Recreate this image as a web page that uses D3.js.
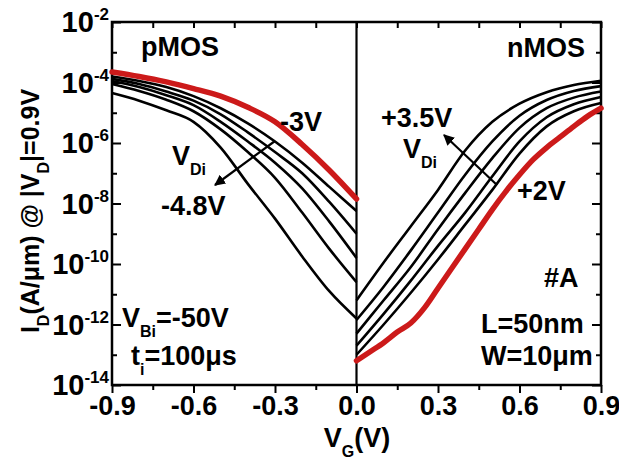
<!DOCTYPE html>
<html>
<head>
<meta charset="utf-8">
<script src="https://cdn.jsdelivr.net/npm/d3@7"></script>
<style>
body{margin:0;background:#fff}
svg{display:block;font-family:"Liberation Sans",Arial,sans-serif;font-weight:bold}
</style>
</head>
<body>
<div id="chart"></div>
<script>
// gate voltage grids (V)
const vgP = [-0.9,-0.8,-0.7,-0.6,-0.5,-0.4,-0.3,-0.2,-0.1,0];
const vgN = [0,0.1,0.2,0.3,0.4,0.5,0.6,0.7,0.8,0.9];
const vgNRed = [0,0.05,0.1,0.15,0.2,0.25,0.3,0.35,0.4,0.45,0.5,0.55,0.6,0.65,0.7,0.75,0.8,0.85,0.9];

// log10 I_D (A/um), pMOS, red = -3V, black down to -4.8V
const pRed    = [-3.65,-3.8,-3.98,-4.2,-4.45,-4.82,-5.3,-6.05,-6.9,-7.85];
const pBlack1 = [-3.8,-3.95,-4.15,-4.45,-4.85,-5.35,-5.95,-6.65,-7.45,-8.25];
const pBlack2 = [-3.88,-4.05,-4.3,-4.6,-5.05,-5.65,-6.3,-7.0,-7.95,-9.0];
const pBlack3 = [-3.95,-4.15,-4.42,-4.75,-5.3,-5.95,-6.65,-7.5,-8.6,-9.8];
const pBlack4 = [-4.05,-4.28,-4.57,-4.95,-5.55,-6.3,-7.15,-8.3,-9.5,-10.6];
const pBlack5 = [-4.35,-4.6,-4.92,-5.3,-6.15,-7.35,-8.5,-9.75,-10.9,-11.8];

// log10 I_D (A/um), nMOS, red = +2V, black up to +3.5V
const nRed    = [-13.2,-12.9,-12.6,-12.25,-11.95,-11.45,-10.8,-10.15,-9.5,-8.85,-8.2,-7.6,-7.05,-6.55,-6.15,-5.8,-5.45,-5.12,-4.85];
const nBlack1 = [-11.2,-9.95,-8.75,-7.55,-6.25,-5.3,-4.7,-4.32,-4.08,-3.94];
const nBlack2 = [-11.85,-10.75,-9.55,-8.3,-7.05,-5.95,-5.1,-4.58,-4.28,-4.12];
const nBlack3 = [-12.3,-11.2,-10.1,-8.85,-7.65,-6.5,-5.5,-4.85,-4.5,-4.3];
const nBlack4 = [-12.7,-11.65,-10.55,-9.4,-8.3,-7.1,-5.95,-5.15,-4.72,-4.48];
const nBlack5 = [-13.0,-12.0,-10.95,-9.85,-8.7,-7.55,-6.35,-5.45,-4.95,-4.68];

const xMajor = [-0.9,-0.6,-0.3,0,0.3,0.6,0.9];
const xMinor = [-0.75,-0.45,-0.15,0.15,0.45,0.75];
const yLabelExp = [-2,-4,-6,-8,-10,-12,-14];
const yMinorExp = [-3,-5,-7,-9,-11,-13];

const RED = "#cc1a1a";

const svg = d3.select("#chart").append("svg")
	.attr("width",619).attr("height",465);

const x = d3.scaleLinear().domain([-0.9,0.9]).range([112,601]);
const y = d3.scaleLog().domain([1e-14,1e-2]).range([385,22]);

const line = d3.line()
	.x(d=>x(d[0]))
	.y(d=>y(Math.pow(10,d[1])))
	.curve(d3.curveMonotoneX);

const styleAxis = g=>{
	g.select(".domain").remove();
	g.selectAll(".tick line").attr("stroke","#000").attr("stroke-width",2);
};

// bottom axis, ticks outward
svg.append("g").attr("transform","translate(0,385)")
	.call(d3.axisBottom(x).tickValues(xMajor).tickSize(8).tickFormat(d=>d.toFixed(1)))
	.call(styleAxis)
	.call(g=>g.selectAll("text").attr("font-size",27).attr("font-family","inherit")
		.attr("font-weight","bold").attr("fill","#000").attr("y",11).attr("dy","0.7em"));
svg.append("g").attr("transform","translate(0,385)")
	.call(d3.axisBottom(x).tickValues(xMinor).tickSize(5).tickFormat(""))
	.call(styleAxis);

// top axis, ticks inward
svg.append("g").attr("transform","translate(0,22)")
	.call(d3.axisTop(x).tickValues(xMajor.concat(xMinor)).tickSize(-6).tickFormat(""))
	.call(styleAxis);

// left / right axes, ticks inward
const yMajorVals = yLabelExp.map(e=>Math.pow(10,e));
const yMinorVals = yMinorExp.map(e=>Math.pow(10,e));
[[d3.axisLeft,112,-9,yMajorVals],[d3.axisLeft,112,-5,yMinorVals],
 [d3.axisRight,601,-9,yMajorVals],[d3.axisRight,601,-5,yMinorVals]].forEach(([ax,tx,sz,vals])=>{
	svg.append("g").attr("transform","translate("+tx+",0)")
		.call(ax(y).tickValues(vals).tickSize(sz).tickFormat(""))
		.call(styleAxis);
});

// y tick labels 10^n
const ylab = svg.append("g").selectAll("text").data(yLabelExp).join("text")
	.attr("x",109).attr("y",d=>y(Math.pow(10,d))+10)
	.attr("text-anchor","end").attr("font-size",29);
ylab.append("tspan").text("10");
ylab.append("tspan").attr("font-size",17).attr("dy",-12).text(d=>d);

// frame and centre line
svg.append("rect").attr("x",112).attr("y",22).attr("width",489).attr("height",363)
	.attr("fill","none").attr("stroke","#000").attr("stroke-width",2.5);
svg.append("line").attr("x1",x(0)).attr("x2",x(0)).attr("y1",22).attr("y2",385)
	.attr("stroke","#000").attr("stroke-width",2.2);

// curves
const blacks = [
	[vgP,pBlack1],[vgP,pBlack2],[vgP,pBlack3],[vgP,pBlack4],[vgP,pBlack5],
	[vgN,nBlack1],[vgN,nBlack2],[vgN,nBlack3],[vgN,nBlack4],[vgN,nBlack5]
];
svg.append("g").selectAll("path").data(blacks).join("path")
	.attr("d",([v,e])=>line(v.map((d,i)=>[d,e[i]])))
	.attr("fill","none").attr("stroke","#000").attr("stroke-width",2.6);

svg.append("g").selectAll("path").data([[vgP,pRed],[vgNRed,nRed]]).join("path")
	.attr("d",([v,e])=>line(v.map((d,i)=>[d,e[i]])))
	.attr("fill","none").attr("stroke",RED).attr("stroke-width",5.5)
	.attr("stroke-linecap","round");

// arrows
svg.append("defs").append("marker")
	.attr("id","ah").attr("viewBox","0 0 10 10").attr("refX",9).attr("refY",5)
	.attr("markerWidth",5).attr("markerHeight",5).attr("orient","auto")
	.append("path").attr("d","M0,0L10,5L0,10Z").attr("fill","#000");
[[275,141,215,185],[497,185,444,135]].forEach(a=>{
	svg.append("line").attr("x1",a[0]).attr("y1",a[1]).attr("x2",a[2]).attr("y2",a[3])
		.attr("stroke","#000").attr("stroke-width",2.2).attr("marker-end","url(#ah)");
});

// annotations: parts are [text, shift] where shift is "sub" or "back"
const label = (tx,ty,parts,size)=>{
	const t = svg.append("text").attr("x",tx).attr("y",ty).attr("font-size",size||27);
	parts.forEach(([s,k])=>{
		if(k=="sub") t.append("tspan").attr("font-size",16).attr("dy",10).text(s);
		else if(k=="back") t.append("tspan").attr("dy",-10).text(s);
		else t.append("tspan").text(s);
	});
	return t;
};
label(141,56,[["pMOS"]]);
label(507,57,[["nMOS"]]);
label(280,131,[["-3V"]]);
label(172,165,[["V"],["Di","sub"]]);
label(161,215,[["-4.8V"]]);
label(381,127,[["+3.5V"]]);
label(403,158,[["V"],["Di","sub"]]);
label(517,200,[["+2V"]]);
label(544,287,[["#A"]]);
label(481,333,[["L=50nm"]]);
label(481,365,[["W=10μm"]]);
label(122,327,[["V"],["Bi","sub"],["=-50V","back"]]);
label(131,365,[["t"],["i","sub"],["=100μs","back"]]);

// axis titles
label(357,447,[["V"],["G","sub"],["(V)","back"]]).attr("text-anchor","middle");
label(0,0,[["I"],["D","sub"],["(A/μm) @ |V","back"],["D","sub"],["|=0.9V","back"]],25)
	.attr("transform","translate(39,211) rotate(-90)").attr("text-anchor","middle");
</script>
</body>
</html>
